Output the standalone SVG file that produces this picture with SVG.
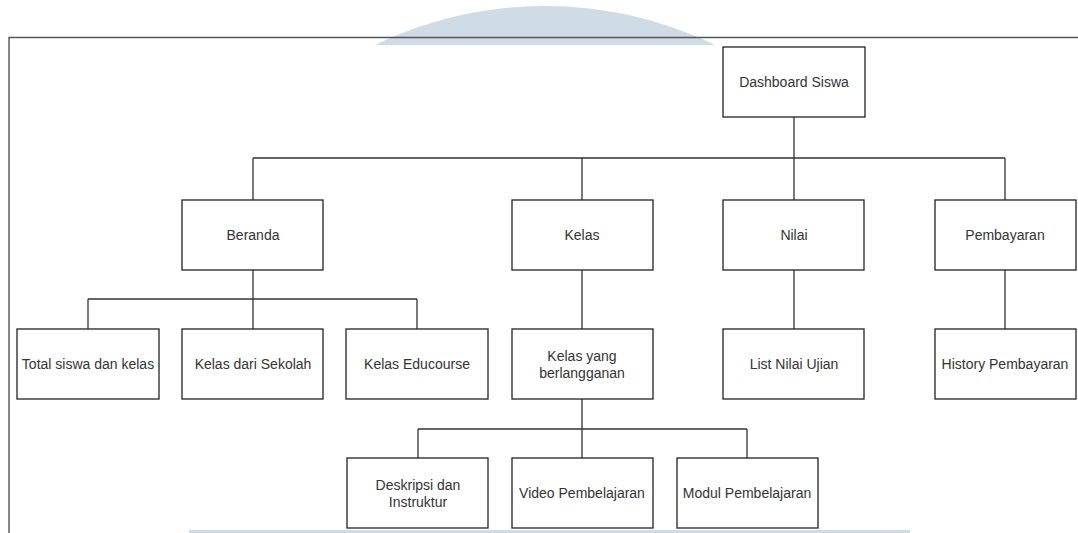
<svg xmlns="http://www.w3.org/2000/svg" width="1078" height="533" viewBox="0 0 1078 533">
<style>
.box{fill:#fff;stroke:#222;stroke-width:1.3}
.lbl{font-family:"Liberation Sans",Arial,sans-serif;font-size:14px;fill:#333;text-anchor:middle;dominant-baseline:central}
.con{fill:none;stroke:#333;stroke-width:1.3}
.wm{fill:#cfdbe5}
</style>
<rect width="1078" height="533" fill="#fff"/>
<g id="watermark">
<path class="wm" d="M375,45 A390,390 0 0 1 715,45 Z"/>
<rect class="wm" x="189" y="530" width="721" height="3"/>
</g>
<g id="frame" fill="none" stroke="#555" stroke-width="1.4">
<path d="M9,533 V37.5 H1078"/>
</g>
<g id="connectors">
<path class="con" d="M794,117 V158 M253,158 H1005 M253,158 V200 M582,158 V200 M794,158 V200 M1005,158 V200"/>
<path class="con" d="M253,270 V299 M88,299 H417 M88,299 V329 M253,299 V329 M417,299 V329"/>
<path class="con" d="M582,270 V329 M794,270 V329 M1005,270 V329"/>
<path class="con" d="M582,399 V429 M418,429 H747 M418,429 V458 M582,429 V458 M747,429 V458"/>
</g>
<g id="n-dashboard"><rect class="box" x="723" y="47" width="142" height="70"/><text class="lbl" x="794" y="82">Dashboard Siswa</text></g>
<g id="n-beranda"><rect class="box" x="182" y="200" width="141" height="70"/><text class="lbl" x="253" y="235">Beranda</text></g>
<g id="n-kelas"><rect class="box" x="512" y="200" width="141" height="70"/><text class="lbl" x="582" y="235">Kelas</text></g>
<g id="n-nilai"><rect class="box" x="723" y="200" width="141" height="70"/><text class="lbl" x="794" y="235">Nilai</text></g>
<g id="n-pembayaran"><rect class="box" x="935" y="200" width="141" height="70"/><text class="lbl" x="1005" y="235">Pembayaran</text></g>
<g id="n-total"><rect class="box" x="17" y="329" width="142" height="70"/><text class="lbl" x="88" y="364">Total siswa dan kelas</text></g>
<g id="n-sekolah"><rect class="box" x="182" y="329" width="141" height="70"/><text class="lbl" x="253" y="364">Kelas dari Sekolah</text></g>
<g id="n-educourse"><rect class="box" x="346" y="329" width="142" height="70"/><text class="lbl" x="417" y="364">Kelas Educourse</text></g>
<g id="n-berlangganan"><rect class="box" x="512" y="329" width="141" height="70"/><text class="lbl" x="582" y="356">Kelas yang</text><text class="lbl" x="582" y="373">berlangganan</text></g>
<g id="n-listnilai"><rect class="box" x="723" y="329" width="141" height="70"/><text class="lbl" x="794" y="364">List Nilai Ujian</text></g>
<g id="n-history"><rect class="box" x="935" y="329" width="141" height="70"/><text class="lbl" x="1005" y="364">History Pembayaran</text></g>
<g id="n-deskripsi"><rect class="box" x="347" y="458" width="141" height="70"/><text class="lbl" x="418" y="485">Deskripsi dan</text><text class="lbl" x="418" y="502">Instruktur</text></g>
<g id="n-video"><rect class="box" x="512" y="458" width="141" height="70"/><text class="lbl" x="582" y="493">Video Pembelajaran</text></g>
<g id="n-modul"><rect class="box" x="677" y="458" width="141" height="70"/><text class="lbl" x="747" y="493">Modul Pembelajaran</text></g>
</svg>
